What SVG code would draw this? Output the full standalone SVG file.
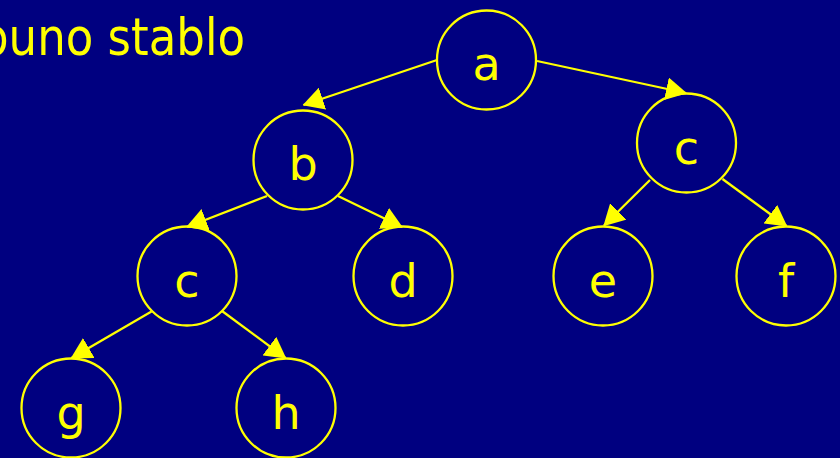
<svg xmlns="http://www.w3.org/2000/svg" width="840" height="458" viewBox="0 0 840 458">
<defs>
<marker id="ah" markerUnits="userSpaceOnUse" markerWidth="21" markerHeight="23" viewBox="0 0 21 23" refX="20" refY="11.5" orient="auto">
<path d="M0,0 L21,11.5 L0,23 z" fill="#FFFF00"/>
</marker>
</defs>
<style>
.node circle{fill:none;stroke:#FFFF00;stroke-width:2.3}
.node text{font-family:"DejaVu Sans","Liberation Sans",sans-serif;font-size:46px;fill:#FFFF00;text-anchor:middle}
#edges line{stroke:#FFFF00;stroke-width:2.3;marker-end:url(#ah)}
.title{font-family:"DejaVu Sans","Liberation Sans",sans-serif;font-size:52px;fill:#FFFF00}
</style>
<rect x="0" y="0" width="840" height="458" fill="#000080"/>
<text class="title" x="-20" y="55" textLength="265" lengthAdjust="spacingAndGlyphs">puno stablo</text>
<g id="edges">
<line x1="437" y1="60" x2="303.5" y2="105"/>
<line x1="537" y1="61" x2="686" y2="93"/>
<line x1="267" y1="196" x2="187" y2="227"/>
<line x1="338" y1="196" x2="402" y2="227"/>
<line x1="151.5" y1="311.5" x2="71.5" y2="358"/>
<line x1="222" y1="311" x2="285.5" y2="358"/>
<line x1="650" y1="180" x2="604" y2="225.5"/>
<line x1="722.5" y1="179" x2="786.5" y2="226"/>
</g>
<g id="node-a" class="node"><circle cx="486.5" cy="60" r="49.5"/><text x="486.5" y="80">a</text></g>
<g id="node-b" class="node"><circle cx="303" cy="160" r="49.5"/><text x="303" y="180">b</text></g>
<g id="node-c1" class="node"><circle cx="187" cy="276" r="49.5"/><text x="187" y="297">c</text></g>
<g id="node-d" class="node"><circle cx="403" cy="276" r="49.5"/><text x="403" y="297">d</text></g>
<g id="node-g" class="node"><circle cx="71" cy="408" r="49.5"/><text x="71" y="429">g</text></g>
<g id="node-h" class="node"><circle cx="286" cy="408" r="49.5"/><text x="286" y="429">h</text></g>
<g id="node-c2" class="node"><circle cx="686.5" cy="143" r="49.5"/><text x="686.5" y="164">c</text></g>
<g id="node-e" class="node"><circle cx="603" cy="276" r="49.5"/><text x="603" y="297">e</text></g>
<g id="node-f" class="node"><circle cx="786" cy="276" r="49.5"/><text x="786" y="297">f</text></g>
</svg>
